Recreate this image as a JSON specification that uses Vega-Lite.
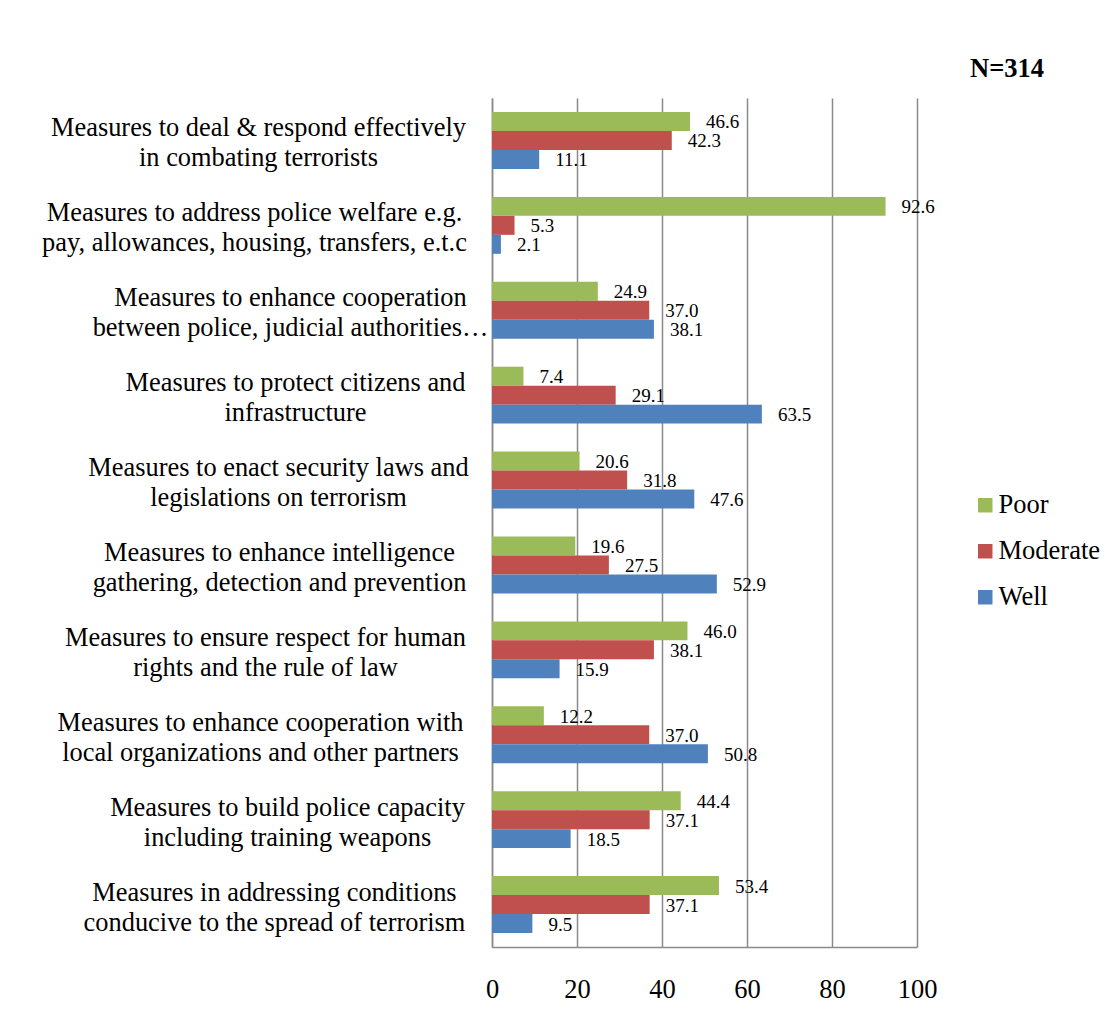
{
  "$schema": "https://vega.github.io/schema/vega-lite/v6.json",
  "width": 425,
  "height": 849,
  "autosize": {"type": "none"},
  "padding": {"left": 492, "top": 98, "right": 198, "bottom": 76},
  "background": "white",
  "title": {"text": "N=314", "font": "Liberation Serif", "fontSize": 26.5, "fontWeight": "bold", "color": "#000", "anchor": "start", "frame": "group", "dx": 478, "dy": 26, "offset": 21, "baseline": "alphabetic"},
  "data": {"values": [
    {"measure": "Measures to deal & respond effectively|in combating terrorists", "rating": "Poor", "pct": 46.6},
    {"measure": "Measures to deal & respond effectively|in combating terrorists", "rating": "Moderate", "pct": 42.3},
    {"measure": "Measures to deal & respond effectively|in combating terrorists", "rating": "Well", "pct": 11.1},
    {"measure": "Measures to address police welfare e.g.|pay, allowances, housing, transfers, e.t.c", "rating": "Poor", "pct": 92.6},
    {"measure": "Measures to address police welfare e.g.|pay, allowances, housing, transfers, e.t.c", "rating": "Moderate", "pct": 5.3},
    {"measure": "Measures to address police welfare e.g.|pay, allowances, housing, transfers, e.t.c", "rating": "Well", "pct": 2.1},
    {"measure": "Measures to enhance cooperation|between police, judicial authorities…", "rating": "Poor", "pct": 24.9},
    {"measure": "Measures to enhance cooperation|between police, judicial authorities…", "rating": "Moderate", "pct": 37.0},
    {"measure": "Measures to enhance cooperation|between police, judicial authorities…", "rating": "Well", "pct": 38.1},
    {"measure": "Measures to protect citizens and|infrastructure", "rating": "Poor", "pct": 7.4},
    {"measure": "Measures to protect citizens and|infrastructure", "rating": "Moderate", "pct": 29.1},
    {"measure": "Measures to protect citizens and|infrastructure", "rating": "Well", "pct": 63.5},
    {"measure": "Measures to enact security laws and|legislations on terrorism", "rating": "Poor", "pct": 20.6},
    {"measure": "Measures to enact security laws and|legislations on terrorism", "rating": "Moderate", "pct": 31.8},
    {"measure": "Measures to enact security laws and|legislations on terrorism", "rating": "Well", "pct": 47.6},
    {"measure": "Measures to enhance intelligence|gathering, detection and prevention", "rating": "Poor", "pct": 19.6},
    {"measure": "Measures to enhance intelligence|gathering, detection and prevention", "rating": "Moderate", "pct": 27.5},
    {"measure": "Measures to enhance intelligence|gathering, detection and prevention", "rating": "Well", "pct": 52.9},
    {"measure": "Measures to ensure respect for human|rights and the rule of law", "rating": "Poor", "pct": 46.0},
    {"measure": "Measures to ensure respect for human|rights and the rule of law", "rating": "Moderate", "pct": 38.1},
    {"measure": "Measures to ensure respect for human|rights and the rule of law", "rating": "Well", "pct": 15.9},
    {"measure": "Measures to enhance cooperation with|local organizations and other partners", "rating": "Poor", "pct": 12.2},
    {"measure": "Measures to enhance cooperation with|local organizations and other partners", "rating": "Moderate", "pct": 37.0},
    {"measure": "Measures to enhance cooperation with|local organizations and other partners", "rating": "Well", "pct": 50.8},
    {"measure": "Measures to build police capacity|including training weapons", "rating": "Poor", "pct": 44.4},
    {"measure": "Measures to build police capacity|including training weapons", "rating": "Moderate", "pct": 37.1},
    {"measure": "Measures to build police capacity|including training weapons", "rating": "Well", "pct": 18.5},
    {"measure": "Measures in addressing conditions|conducive to the spread of terrorism", "rating": "Poor", "pct": 53.4},
    {"measure": "Measures in addressing conditions|conducive to the spread of terrorism", "rating": "Moderate", "pct": 37.1},
    {"measure": "Measures in addressing conditions|conducive to the spread of terrorism", "rating": "Well", "pct": 9.5}
  ]},
  "encoding": {
    "y": {
      "field": "measure", "type": "nominal", "sort": null,
      "scale": {"paddingInner": 0.33, "paddingOuter": 0.165},
      "axis": {
        "title": null,
        "labelExpr": "split(datum.value, '|')",
        "labelAlign": "center",
        "labelBaseline": "middle",
        "labelPadding": 220,
        "labelOffset": -12,
        "labelFont": "Liberation Serif",
        "labelFontSize": 26.4,
        "labelLineHeight": 30,
        "labelColor": "#000",
        "labelLimit": 0,
        "ticks": false,
        "grid": false,
        "domainColor": "#8a8a8a",
        "domainWidth": 1.5,
        "encoding": {"labels": {"dx": {"condition": [
          {"test": "indexof(datum.value,'deal &')>=0", "value": -14},
          {"test": "indexof(datum.value,'welfare')>=0", "value": -18},
          {"test": "indexof(datum.value,'judicial')>=0", "value": 18},
          {"test": "indexof(datum.value,'protect')>=0", "value": 23},
          {"test": "indexof(datum.value,'enact')>=0", "value": 6},
          {"test": "indexof(datum.value,'intelligence')>=0", "value": 7},
          {"test": "indexof(datum.value,'human')>=0", "value": -7},
          {"test": "indexof(datum.value,'local')>=0", "value": -12},
          {"test": "indexof(datum.value,'capacity')>=0", "value": 15}
        ], "value": 2}}}
      }
    },
    "yOffset": {"field": "rating", "type": "nominal", "sort": ["Poor", "Moderate", "Well"], "scale": {"paddingInner": 0, "paddingOuter": 0}},
    "x": {
      "field": "pct", "type": "quantitative",
      "scale": {"domain": [0, 100]},
      "axis": {
        "title": null,
        "values": [0, 20, 40, 60, 80, 100],
        "grid": true,
        "gridColor": "#8a8a8a",
        "gridWidth": 1.5,
        "ticks": false,
        "labelPadding": 29,
        "labelFont": "Liberation Serif",
        "labelFontSize": 26.5,
        "labelColor": "#000",
        "labelFlush": false,
        "domainColor": "#8a8a8a",
        "domainWidth": 1.5
      }
    }
  },
  "layer": [
    {
      "mark": {"type": "bar"},
      "encoding": {
        "color": {
          "field": "rating", "type": "nominal",
          "scale": {"domain": ["Poor", "Moderate", "Well"], "range": ["#9BBB59", "#C0504D", "#4F81BD"]},
          "legend": {
            "title": null,
            "orient": "none",
            "legendX": 480,
            "legendY": 394,
            "padding": 0,
            "symbolType": "square",
            "symbolSize": 210,
            "symbolStrokeWidth": 0,
            "labelFont": "Liberation Serif",
            "labelFontSize": 26.5,
            "labelColor": "#000",
            "labelOffset": 0,
            "rowPadding": 19
          }
        }
      }
    },
    {
      "mark": {"type": "text", "align": "left", "baseline": "middle", "dx": 16, "dy": 1, "font": "Liberation Serif", "fontSize": 19, "color": "#000"},
      "encoding": {"text": {"field": "pct", "type": "quantitative", "format": ".1f"}}
    }
  ],
  "config": {"view": {"stroke": null}}
}
